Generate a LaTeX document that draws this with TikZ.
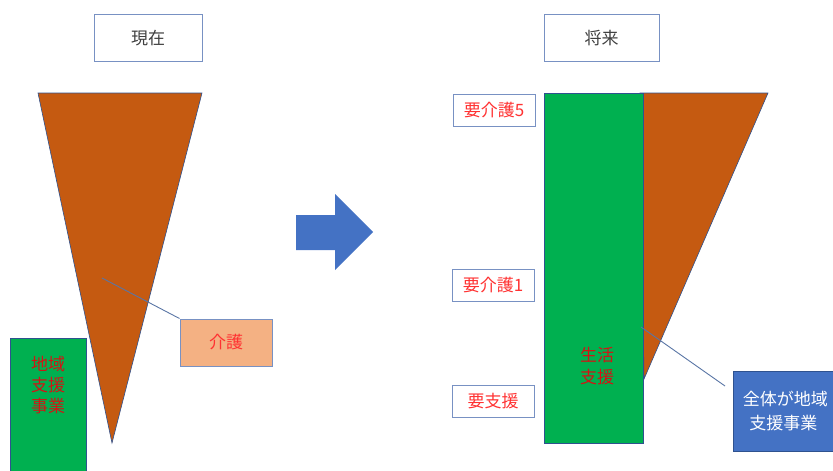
\documentclass[tikz,border=0pt]{standalone}
\usepackage{fontspec}
\setmainfont{Noto Sans CJK JP}
\usetikzlibrary{positioning}
\definecolor{orng}{RGB}{197,90,17}
\definecolor{grn}{RGB}{0,176,80}
\definecolor{blu}{RGB}{68,114,196}
\definecolor{edge}{RGB}{47,82,143}
\definecolor{ledge}{RGB}{120,145,195}
\definecolor{salmon}{RGB}{244,177,131}
\definecolor{txtgray}{RGB}{64,64,64}
\definecolor{lred}{RGB}{255,50,50}
\definecolor{dred}{RGB}{210,20,20}
\tikzset{
  lbl/.style={draw=ledge, line width=1pt, fill=white, text=lred, font=\fontsize{17}{20}\selectfont, inner sep=0pt},
  hdr/.style={draw=ledge, line width=1pt, fill=white, text=txtgray, font=\fontsize{17}{20}\selectfont, inner sep=0pt},
  shp/.style={draw=edge, line width=0.6pt},
  leader/.style={draw=edge!80, line width=0.9pt}
}
\begin{document}
\begin{tikzpicture}[x=1pt,y=-1pt]
\useasboundingbox (0,0) rectangle (833,471);
% headers
\node[hdr, minimum width=108pt, minimum height=47pt] (now) at (148,38) {現在};
\node[hdr, minimum width=115pt, minimum height=47pt] (fut) at (601.5,38) {将来};
% left
\draw[shp, fill=orng] (38,93) -- (202,93) -- (112,443) -- cycle;
\node[shp, fill=grn, minimum width=76pt, minimum height=140pt, inner sep=0pt, anchor=north west] (chiiki) at (10,338) {};
\node[text=dred, font=\fontsize{17}{21}\selectfont, align=center] (chiikit) at (48,385) {地域\\支援\\事業};
\coordinate (kaigoP) at (102,278);
\node[lbl, fill=salmon, minimum width=92pt, minimum height=47pt] (kaigo) at (226,342.5) {介護};
\draw[leader] (kaigoP) -- (kaigo.north west);
% arrow
\draw[fill=blu, draw=none] (296,215) -- (335,215) -- (335,194) -- (373,232) -- (335,270) -- (335,250) -- (296,250) -- cycle;
% right
\draw[shp, fill=orng] (640,93) -- (768,93) -- (644,379) -- cycle;
\node[shp, fill=grn, minimum width=99pt, minimum height=350pt, inner sep=0pt, anchor=north west] (seikatsu) at (544,93) {};
\node[text=dred, font=\fontsize{17}{22}\selectfont, align=center] (seikatsut) at (597,366) {生活\\支援};
\node[lbl, minimum width=82pt, minimum height=32pt] (l5) at (494,110) {要介護5};
\node[lbl, minimum width=82pt, minimum height=32pt] (l1) at (493,285) {要介護1};
\node[lbl, minimum width=82pt, minimum height=32pt] (ls) at (493,401) {要支援};
\coordinate (allP) at (641,327);
\coordinate (allQ) at (725,386);
\node[draw=edge, line width=0.6pt, fill=blu, text=white, minimum width=100pt, minimum height=80pt, inner sep=0pt,
  anchor=north west, font=\fontsize{17}{24}\selectfont, align=center] (all) at (733,371) {\hspace*{4pt}全体が地域\\支援事業};
\draw[leader] (allP) -- (allQ);
\end{tikzpicture}
\end{document}
